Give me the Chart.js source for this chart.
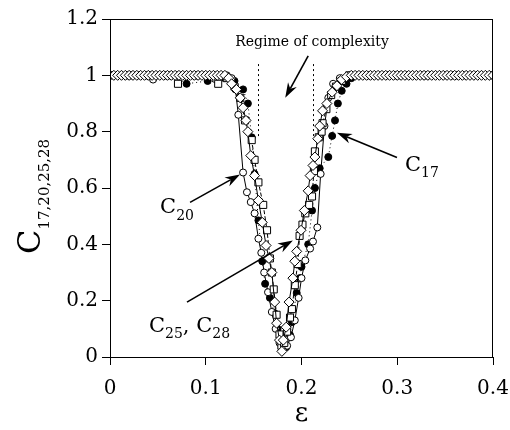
<!DOCTYPE html>
<html>
<head>
<meta charset="utf-8">
<script src="https://cdn.jsdelivr.net/npm/chart.js"></script>
<style>
  html, body { margin: 0; padding: 0; background: #fff; }
</style>
</head>
<body>
<canvas id="myChart" width="510" height="430"></canvas>
<script>
// ---- data ----
const c28Eps = [0,0.004,0.008,0.012,0.016,0.02,0.024,0.028,0.032,0.036,0.04,0.044,0.048,0.052,0.056,0.06,0.064,0.068,0.072,0.076,0.08,0.084,0.088,0.092,0.096,0.1,0.104,0.108,0.112,0.116,0.12,
  0.124,0.127,0.132,0.136,0.139,0.142,0.144,0.147,0.151,0.155,0.159,0.163,0.166,0.169,0.172,0.174,0.177,0.1795,0.181,0.184,0.187,0.191,0.193,0.195,0.1995,0.203,0.207,0.209,0.212,0.214,0.217,0.219,0.222,0.2265,0.232,0.237,0.242,0.247,
  0.252,0.256,0.26,0.264,0.268,0.272,0.276,0.28,0.284,0.288,0.292,0.296,0.3,0.304,0.308,0.312,0.316,0.32,0.324,0.328,0.332,0.336,0.34,0.344,0.348,0.352,0.356,0.36,0.364,0.368,0.372,0.376,0.38,0.384,0.388,0.392,0.396,0.4];
const c28Val = [1,1,1,1,1,1,1,1,1,1,1,1,1,1,1,1,1,1,1,1,1,1,1,1,1,1,1,1,1,1,1,
  0.99,0.97,0.95,0.92,0.885,0.84,0.8,0.715,0.644,0.556,0.478,0.396,0.35,0.3,0.195,0.12,0.06,0.02,0.06,0.106,0.195,0.28,0.34,0.375,0.45,0.52,0.59,0.644,0.68,0.71,0.775,0.82,0.874,0.9,0.94,0.963,0.985,0.995,
  1,1,1,1,1,1,1,1,1,1,1,1,1,1,1,1,1,1,1,1,1,1,1,1,1,1,1,1,1,1,1,1,1,1,1,1,1,1];

const c25Eps = [0,0.02,0.04,0.06,0.071,0.09,0.113,0.122,0.13,0.136,0.141,0.148,0.151,0.155,0.16,0.164,0.167,0.169,0.171,0.174,0.177,0.179,0.182,0.185,0.188,0.19,0.193,0.196,0.198,0.201,0.204,0.208,0.211,0.213,0.214,0.218,0.221,0.222,0.226,0.231,0.236,0.242,0.25,0.27,0.3,0.33,0.36,0.4];
const c25Val = [1,1,1,1,0.97,1,0.97,0.99,0.96,0.92,0.84,0.77,0.7,0.62,0.54,0.45,0.35,0.3,0.24,0.15,0.08,0.04,0.05,0.09,0.14,0.17,0.255,0.33,0.43,0.47,0.51,0.54,0.57,0.66,0.73,0.78,0.8,0.83,0.88,0.93,0.96,0.98,1,1,1,1,1,1];

const c20Eps = [0,0.02,0.045,0.07,0.09,0.11,0.122,0.127,0.131,0.134,0.139,0.143,0.147,0.151,0.155,0.158,0.161,0.165,0.169,0.173,0.177,0.181,0.185,0.189,0.193,0.197,0.2,0.204,0.209,0.212,0.2165,0.22,0.224,0.228,0.233,0.24,0.25,0.28,0.31,0.34,0.37,0.4];
const c20Val = [1,1,0.985,1,1,1,1,0.99,0.95,0.86,0.655,0.585,0.55,0.51,0.42,0.37,0.3,0.23,0.16,0.1,0.05,0.03,0.04,0.07,0.13,0.21,0.28,0.343,0.385,0.41,0.46,0.65,0.82,0.92,0.97,0.99,1,1,1,1,1,1];

const c17Eps = [0,0.03,0.06,0.08,0.102,0.12,0.13,0.139,0.144,0.148,0.151,0.155,0.159,0.162,0.167,0.172,0.175,0.1795,0.182,0.184,0.188,0.19,0.195,0.198,0.2,0.207,0.211,0.214,0.219,0.228,0.232,0.235,0.238,0.242,0.247,0.252,0.26,0.29,0.32,0.35,0.38,0.4];
const c17Val = [1,1,1,0.97,0.98,0.99,0.98,0.95,0.9,0.78,0.65,0.485,0.34,0.26,0.21,0.155,0.1,0.067,0.04,0.035,0.078,0.124,0.227,0.28,0.32,0.4,0.52,0.6,0.67,0.71,0.785,0.84,0.9,0.945,0.97,0.99,1,1,1,1,1,1];

const xTicks = [0, 0.1, 0.2, 0.3, 0.4];
const yTicks = [0, 0.2, 0.4, 0.6, 0.8, 1, 1.2];

// regime of complexity markers (epsilon edges, C span)
const regimeEdges = [0.155, 0.212];
const regimeSpan = [0.775, 1.04];

const SERIF = '"DejaVu Serif", "Liberation Serif", serif';

function pts(xs, ys) {
    return xs.map((e, i) => ({x: e, y: ys[i]}));
}

// text with subscripts: parts = [[text, isSub], ...]
function subText(ctx, x, y, parts, size, subSize, drop) {
    let cx = x;
    subSize = subSize || Math.round(size * 0.68);
    drop = drop || size * 0.3;
    ctx.textBaseline = 'alphabetic';
    ctx.textAlign = 'left';
    parts.forEach(p => {
        ctx.font = (p[1] ? subSize : size) + 'px ' + SERIF;
        ctx.fillText(p[0], cx, p[1] ? y + drop : y);
        cx += ctx.measureText(p[0]).width;
    });
}

function arrow(ctx, x0, y0, x1, y1) {
    const a = Math.atan2(y1 - y0, x1 - x0);
    const c = Math.cos(a), s = Math.sin(a);
    const L = 15, W = 5;
    ctx.lineWidth = 1.6;
    ctx.beginPath();
    ctx.moveTo(x0, y0);
    ctx.lineTo(x1 - L * 0.7 * c, y1 - L * 0.7 * s);
    ctx.stroke();
    ctx.beginPath();
    ctx.moveTo(x1, y1);
    ctx.lineTo(x1 - L * c + W * s, y1 - L * s - W * c);
    ctx.lineTo(x1 - L * 0.7 * c, y1 - L * 0.7 * s);
    ctx.lineTo(x1 - L * c - W * s, y1 - L * s + W * c);
    ctx.closePath();
    ctx.fill();
}

const overlay = {
    id: 'overlay',
    afterDatasetsDraw(chart) {
        const {ctx, chartArea: a, scales: {x, y}} = chart;
        const px = v => x.getPixelForValue(v);
        const py = v => y.getPixelForValue(v);
        ctx.save();
        ctx.strokeStyle = '#000';
        ctx.fillStyle = '#000';

        // frame
        ctx.lineWidth = 1;
        ctx.strokeRect(a.left + 0.5, a.top + 0.5, a.right - a.left - 1, a.bottom - a.top);

        // dotted lines around the regime
        ctx.setLineDash([2, 3]);
        regimeEdges.forEach(e => {
            const xx = Math.round(px(e)) + 0.5;
            ctx.beginPath();
            ctx.moveTo(xx, py(regimeSpan[1]));
            ctx.lineTo(xx, py(regimeSpan[0]));
            ctx.stroke();
        });
        ctx.setLineDash([]);

        // labels
        ctx.font = '14px ' + SERIF;
        ctx.textAlign = 'center';
        ctx.textBaseline = 'middle';
        ctx.fillText('Regime of complexity', px(0.211), py(1.118));
        arrow(ctx, px(0.207), py(1.069), px(0.183), py(0.92));

        subText(ctx, px(0.0523), py(0.51), [['C', false], ['20', true]], 21);
        arrow(ctx, px(0.0836), py(0.549), px(0.1358), py(0.648));

        subText(ctx, px(0.0407), py(0.09), [['C', false], ['25', true], [', ', false], ['C', false], ['28', true]], 21);
        arrow(ctx, px(0.0804), py(0.195), px(0.191), py(0.414));

        subText(ctx, px(0.308), py(0.662), [['C', false], ['17', true]], 21);
        arrow(ctx, px(0.2997), py(0.708), px(0.237), py(0.796));

        // y axis title with subscript, rotated
        ctx.save();
        ctx.translate(40, 254);
        ctx.rotate(-Math.PI / 2);
        subText(ctx, 0, 0, [['C', false], ['17,20,25,28', true]], 32, 15, 9);
        ctx.restore();

        ctx.restore();
    }
};

const cnv = document.getElementById('myChart');

new Chart(cnv, {
    type: 'scatter',
    data: {
        datasets: [
            {
                label: 'C28',
                data: pts(c28Eps, c28Val),
                showLine: true,
                borderColor: '#000',
                borderWidth: 1,
                pointStyle: 'rectRot',
                pointRadius: 5,
                pointBackgroundColor: '#fff',
                pointBorderColor: '#000',
                pointBorderWidth: 1
            },
            {
                label: 'C25',
                data: pts(c25Eps, c25Val),
                showLine: true,
                borderColor: '#000',
                borderWidth: 1,
                borderDash: [4, 2],
                pointStyle: 'rect',
                pointRadius: 5,
                pointBackgroundColor: '#fff',
                pointBorderColor: '#000',
                pointBorderWidth: 1
            },
            {
                label: 'C20',
                data: pts(c20Eps, c20Val),
                showLine: true,
                borderColor: '#000',
                borderWidth: 1,
                pointStyle: 'circle',
                pointRadius: 3.5,
                pointBackgroundColor: '#fff',
                pointBorderColor: '#000',
                pointBorderWidth: 1
            },
            {
                label: 'C17',
                data: pts(c17Eps, c17Val),
                showLine: true,
                borderColor: '#000',
                borderWidth: 1,
                borderDash: [1, 3],
                pointStyle: 'circle',
                pointRadius: 3.5,
                pointBackgroundColor: '#000',
                pointBorderColor: '#000',
                pointBorderWidth: 1
            }
        ]
    },
    options: {
        responsive: false,
        animation: false,
        layout: { padding: { top: 19, right: 17, left: 0, bottom: 0 } },
        plugins: { legend: { display: false }, tooltip: { enabled: false } },
        scales: {
            x: {
                type: 'linear',
                min: 0,
                max: 0.4,
                afterBuildTicks: s => { s.ticks = xTicks.map(v => ({value: v})); },
                afterFit: s => { s.height = 73; s.paddingLeft = 0; s.paddingRight = 0; },
                grid: { drawOnChartArea: false, tickLength: 8, color: '#000' },
                border: { color: '#000', width: 1 },
                ticks: {
                    color: '#000',
                    padding: 12,
                    font: { family: SERIF, size: 20 },
                    callback: v => String(Math.round(v * 10) / 10)
                },
                title: {
                    display: true,
                    text: 'ε',
                    color: '#000',
                    font: { family: SERIF, size: 26 },
                    padding: { top: 0, bottom: 0 }
                }
            },
            y: {
                type: 'linear',
                min: 0,
                max: 1.2,
                afterBuildTicks: s => { s.ticks = yTicks.map(v => ({value: v})); },
                afterFit: s => { s.width = 110; s.paddingTop = 0; s.paddingBottom = 0; },
                grid: { drawOnChartArea: false, tickLength: 8, color: '#000' },
                border: { color: '#000', width: 1 },
                ticks: {
                    color: '#000',
                    padding: 4,
                    font: { family: SERIF, size: 20 },
                    callback: v => String(Math.round(v * 10) / 10)
                }
            }
        }
    },
    plugins: [overlay]
});
</script>
</body>
</html>
